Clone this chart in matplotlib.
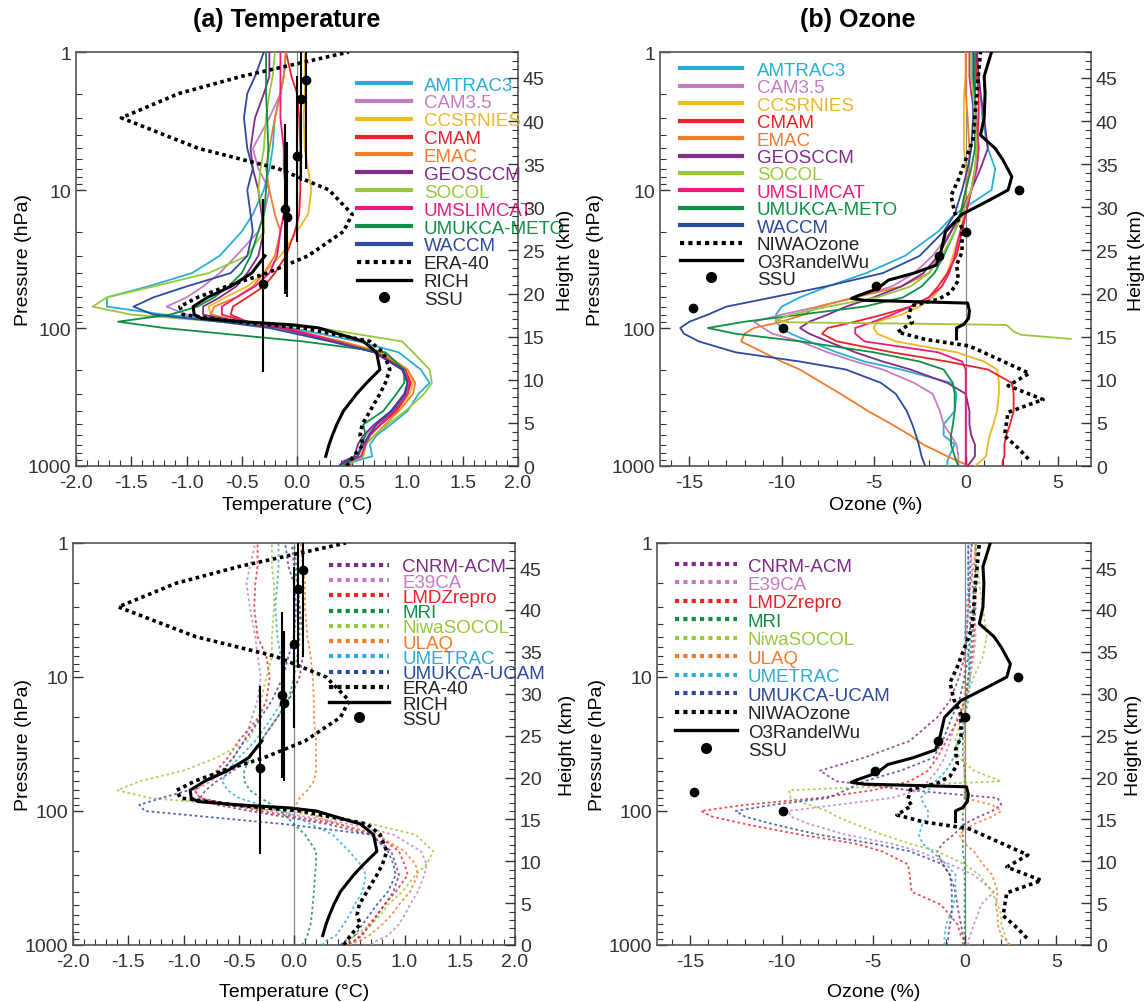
import numpy as np
import matplotlib
matplotlib.use('Agg')
import matplotlib.pyplot as plt
from matplotlib.lines import Line2D
from matplotlib.ticker import MultipleLocator, LogLocator, NullFormatter, FormatStrFormatter

plt.rcParams['font.family'] = ['Liberation Sans', 'DejaVu Sans']
plt.rcParams['axes.unicode_minus'] = False

# ── pressure grids (hPa) ─────────────────────────────────────
P_T = [1000, 925, 850, 700, 600, 500, 400, 300, 250, 200, 150, 125, 100, 90, 80,
       70, 60, 50, 40, 30, 20, 15, 10, 7, 5, 3, 2, 1.5, 1]
P_O = [1000, 925, 850, 700, 600, 500, 400, 300, 250, 200, 175, 150, 125, 110, 100,
       90, 80, 70, 60, 50, 40, 30, 20, 15, 10, 7, 5, 3, 2, 1.5, 1]

# ── (a) temperature, top: CCMVal models (solid) ─────────────
T_TOP = {
    'AMTRAC3':     [0.45, 0.52, 0.68, 0.66, 0.72, 0.85, 1.0, 1.1, 1.2, 1.12, 0.92, 0.55, -0.05, -0.45, -1.2,
                    -1.72, -1.72, -1.35, -0.95, -0.7, -0.5, -0.4, -0.3, -0.25, -0.22, -0.2, -0.15, -0.12, -0.1],
    'CAM3.5':      [0.4, 0.45, 0.55, 0.58, 0.62, 0.72, 0.85, 0.98, 1.02, 0.95, 0.7, 0.35, -0.2, -0.6, -1.0,
                    -1.18, -1.0, -0.85, -0.7, -0.55, -0.35, -0.3, -0.25, -0.35, -0.4, -0.25, -0.15, -0.12, -0.1],
    'CCSRNIES':    [0.42, 0.45, 0.55, 0.6, 0.65, 0.75, 0.9, 1.02, 1.05, 1.0, 0.78, 0.4, -0.15, -0.5, -0.78,
                    -0.8, -0.65, -0.45, -0.3, -0.15, 0.0, 0.1, 0.13, 0.1, 0.07, 0.06, 0.07, 0.07, 0.07],
    'CMAM':        [0.45, 0.5, 0.6, 0.62, 0.66, 0.76, 0.9, 1.0, 1.03, 0.98, 0.72, 0.35, -0.1, -0.45, -0.6,
                    -0.58, -0.45, -0.3, -0.2, -0.1, -0.02, 0.02, 0.03, 0.03, 0.03, 0.02, 0.0, -0.05, -0.1],
    'EMAC':        [0.48, 0.5, 0.58, 0.62, 0.7, 0.8, 0.92, 1.05, 1.07, 1.0, 0.75, 0.4, -0.1, -0.5, -0.78,
                    -0.75, -0.55, -0.4, -0.3, -0.2, -0.15, -0.2, -0.25, -0.28, -0.25, -0.2, -0.15, -0.12, -0.1],
    'GEOSCCM':     [0.38, 0.42, 0.52, 0.55, 0.6, 0.7, 0.85, 0.97, 1.0, 0.95, 0.7, 0.35, -0.15, -0.55, -0.85,
                    -0.85, -0.7, -0.55, -0.45, -0.35, -0.3, -0.32, -0.35, -0.4, -0.42, -0.38, -0.3, -0.25, -0.25],
    'SOCOL':       [0.45, 0.5, 0.6, 0.62, 0.7, 0.82, 0.98, 1.15, 1.22, 1.2, 1.05, 0.95, 0.2, -0.7, -1.5,
                    -1.85, -1.72, -1.3, -0.8, -0.45, -0.3, -0.3, -0.35, -0.33, -0.3, -0.28, -0.25, -0.22, -0.2],
    'UMSLIMCAT':   [0.42, 0.48, 0.58, 0.62, 0.66, 0.75, 0.88, 1.0, 1.02, 0.96, 0.7, 0.35, -0.1, -0.45, -0.68,
                    -0.68, -0.55, -0.38, -0.25, -0.18, -0.15, -0.12, -0.1, -0.12, -0.12, -0.15, -0.15, -0.15, -0.15],
    'UMUKCA-METO': [0.42, 0.48, 0.55, 0.58, 0.62, 0.6, 0.78, 0.9, 0.97, 0.97, 0.8, 0.05, -1.2, -1.62, -1.15,
                    -0.9, -0.75, -0.62, -0.5, -0.42, -0.35, -0.3, -0.28, -0.27, -0.26, -0.27, -0.28, -0.28, -0.28],
    'WACCM':       [0.38, 0.45, 0.55, 0.6, 0.65, 0.72, 0.86, 0.98, 1.0, 0.96, 0.7, 0.3, -0.25, -0.7, -1.3,
                    -1.48, -1.3, -1.0, -0.6, -0.45, -0.4, -0.42, -0.45, -0.4, -0.45, -0.48, -0.45, -0.38, -0.3],
}

# ── (a) temperature, bottom: other models (dotted) ───────────
T_BOT = {
    'CNRM-ACM':    [0.5, 0.55, 0.6, 0.7, 0.75, 0.82, 0.9, 0.95, 0.92, 0.88, 0.7, 0.3, -0.4, -0.7, -0.85,
                    -0.8, -0.7, -0.55, -0.42, -0.3, -0.15, -0.05, 0.05, 0.08, 0.08, 0.05, 0.03, 0.0, -0.02],
    'E39CA':       [0.7, 0.75, 0.85, 0.95, 1.0, 1.05, 1.12, 1.18, 1.2, 1.15, 0.9, 0.5, -0.2, -0.6, -0.85,
                    -0.9, -0.75, -0.65, -0.55, -0.45, -0.38, -0.33, -0.3, -0.33, -0.35, -0.4, -0.43, -0.4, -0.35],
    'LMDZrepro':   [0.45, 0.55, 0.62, 0.68, 0.75, 0.82, 0.92, 1.03, 1.0, 0.95, 0.75, 0.4, -0.3, -0.55, -0.85,
                    -0.9, -0.8, -0.7, -0.6, -0.5, -0.32, -0.25, -0.22, -0.25, -0.33, -0.36, -0.35, -0.33, -0.33],
    'MRI':         [0.07, 0.1, 0.12, 0.15, 0.16, 0.17, 0.18, 0.19, 0.2, 0.2, 0.1, 0.0, -0.12, -0.2, -0.3,
                    -0.4, -0.45, -0.45, -0.4, -0.3, -0.15, -0.05, 0.0, 0.03, 0.05, 0.05, 0.03, 0.02, 0.0],
    'NiwaSOCOL':   [0.45, 0.5, 0.55, 0.7, 0.78, 0.85, 0.98, 1.1, 1.2, 1.26, 1.1, 0.7, -0.1, -0.6, -1.3,
                    -1.6, -1.4, -1.0, -0.7, -0.42, -0.3, -0.3, -0.25, -0.2, -0.2, -0.18, -0.18, -0.2, -0.2],
    'ULAQ':        [0.5, 0.6, 0.68, 0.8, 0.88, 0.95, 1.05, 1.12, 1.1, 1.0, 0.75, 0.4, 0.05, 0.02, 0.05,
                    0.12, 0.18, 0.2, 0.2, 0.2, 0.18, 0.18, 0.17, 0.15, 0.12, 0.1, 0.1, 0.08, 0.06],
    'UMETRAC':     [0.25, 0.3, 0.38, 0.45, 0.5, 0.55, 0.62, 0.65, 0.6, 0.5, 0.35, 0.15, -0.1, -0.3, -0.5,
                    -0.6, -0.65, -0.6, -0.5, -0.35, -0.2, -0.1, -0.1, -0.12, -0.15, -0.17, -0.15, -0.14, -0.14],
    'UMUKCA-UCAM': [0.42, 0.47, 0.55, 0.62, 0.68, 0.75, 0.85, 0.92, 0.9, 0.85, 0.7, -0.1, -1.35, -1.4, -1.2,
                    -0.95, -0.8, -0.65, -0.55, -0.45, -0.3, -0.2, -0.1, -0.05, 0.0, 0.02, 0.0, -0.05, -0.08],
}

# ── (a) observations ─────────────────────────────────────────
ERA40 = [0.45, 0.48, 0.51, 0.6, 0.57, 0.59, 0.66, 0.75, 0.8, 0.84, 0.78, 0.66, 0.06, -0.55, -1.03,
         -1.06, -0.9, -0.64, -0.27, 0.1, 0.42, 0.5, 0.29, -0.17, -0.89, -1.59, -1.07, -0.5, 0.47]
RICH_P = [850, 700, 600, 500, 400, 300, 250, 200, 150, 125, 100, 95, 90, 85, 80, 70, 60, 50, 40, 30]
RICH_T = [0.26, 0.29, 0.32, 0.36, 0.42, 0.54, 0.63, 0.75, 0.72, 0.6, 0.2, -0.03, -0.5, -0.87, -0.93,
          -0.94, -0.81, -0.6, -0.41, -0.29]
SSU_T = [0.08, 0.04, 0.0, -0.11, -0.09, -0.31]
SSU_TP = [1.6, 2.2, 5.7, 13.7, 15.6, 48.0]
SSU_TP_LO = [1.0, 1.0, 1.5, 3.3, 4.5, 11.6]
SSU_TP_HI = [7.1, 8.6, 24.0, 57.0, 60.0, 210.0]

# ── (b) ozone, top: CCMVal models (solid) ────────────────────
O_TOP = {
    'AMTRAC3':     [-1.0, -1.0, -0.9, -0.6, -1.2, -1.2, -0.6, -0.5, -0.8, -3.5, -5.5, -7.0, -8.5, -9.5, -10.0,
                    -10.3, -10.3, -10.0, -9.0, -7.5, -5.4, -3.3, -1.5, -0.6, 1.4, 1.6, 1.2, 0.9, 0.8, 0.7, 0.6],
    'CAM3.5':      [-0.4, -0.4, -0.4, -0.5, -0.8, -1.2, -1.4, -1.8, -2.8, -4.5, -6.0, -7.5, -9.0, -10.5, -11.0,
                    -11.5, -10.0, -8.0, -6.0, -4.0, -2.8, -1.8, -0.8, -0.2, 0.3, 0.6, 0.7, 0.6, 0.5, 0.5, 0.5],
    'CCSRNIES':    [0.5, 0.8, 1.1, 1.2, 1.3, 1.5, 1.7, 1.8, 1.8, 1.7, 1.0, -0.5, -3.8, -4.8, -5.0,
                    -4.8, -3.5, -2.5, -1.8, -1.3, -1.0, -0.7, -0.3, -0.1, 0.0, 0.0, -0.1, -0.1, -0.1, 0.0, 0.0],
    'CMAM':        [2.0, 2.0, 2.1, 2.1, 2.2, 2.4, 2.6, 2.6, 2.5, 1.2, -1.0, -4.0, -7.0, -7.8, -7.5,
                    -6.0, -4.5, -3.0, -2.0, -1.5, -1.0, -0.5, -0.2, 0.0, 0.3, 0.5, 0.6, 0.7, 0.7, 0.6, 0.6],
    'EMAC':        [0.2, -0.4, -1.0, -2.3, -3.0, -4.0, -5.3, -6.8, -7.8, -9.0, -10.0, -11.0, -12.2, -12.0, -11.5,
                    -10.0, -8.8, -8.0, -6.0, -3.5, -2.0, -1.5, -0.8, -0.3, 0.0, 0.2, 0.2, 0.1, 0.0, 0.0, 0.0],
    'GEOSCCM':     [0.1, 0.3, 0.5, 0.5, 0.3, 0.2, 0.2, 0.0, -1.0, -3.0, -4.5, -6.0, -7.5, -8.5, -9.0,
                    -8.5, -7.5, -6.5, -5.0, -3.5, -2.3, -1.5, -0.8, -0.3, 0.3, 0.8, 1.2, 1.0, 0.8, 0.7, 0.6],
    'UMSLIMCAT':   [0.0, 0.0, 0.0, 0.0, 0.0, 0.0, 0.0, 0.0, 0.0, 0.0, -0.2, -1.5, -5.5, -6.0, -6.0,
                    -5.0, -4.0, -3.0, -2.0, -1.3, -0.9, -0.6, -0.3, 0.0, 0.3, 0.6, 0.7, 0.5, 0.3, 0.2, 0.2],
    'UMUKCA-METO': [-0.4, -0.5, -0.6, -0.8, -0.8, -0.7, -0.6, -0.6, -0.7, -1.2, -2.5, -5.0, -9.0, -12.5, -14.0,
                    -12.0, -9.0, -5.5, -3.4, -2.4, -1.7, -1.2, -0.6, -0.3, 0.0, 0.3, 0.5, 0.5, 0.5, 0.5, 0.5],
    'WACCM':       [-2.2, -2.3, -2.4, -2.55, -2.7, -2.9, -3.2, -3.8, -4.6, -6.5, -9.0, -12.5, -14.5, -15.3, -15.5,
                    -15.0, -14.0, -13.0, -10.5, -7.6, -4.5, -2.5, -1.2, -0.6, -0.2, 0.1, 0.3, 0.4, 0.4, 0.4, 0.4],
}
SOCOL_OP = [120, 112, 106, 100, 95, 93, 91, 88, 80, 70, 60, 50, 40, 30, 20, 15, 10, 7, 5, 3, 2, 1.5, 1]
SOCOL_O = [5.7, 3.0, 2.6, 2.4, 2.2, -3.0, -9.5, -10.3, -9.5, -7.5, -4.8, -3.0, -2.0, -1.3, -0.6,
           -0.2, 0.3, 0.5, 0.6, 0.5, 0.4, 0.3, 0.3]

# ── (b) ozone, bottom: other models (dotted) ─────────────────
O_BOT = {
    'CNRM-ACM':    [0.0, 0.0, -0.1, -0.2, -0.3, -0.4, -0.5, -0.8, -1.2, -1.5, -1.2, -0.6, 0.0, 0.8, 1.5,
                    2.0, 1.8, -3.0, -7.0, -7.9, -5.5, -3.0, -1.5, -0.8, -0.3, 0.0, 0.1, 0.2, 0.3, 0.3, 0.4],
    'E39CA':       [0.2, 0.2, 0.3, 0.5, 0.7, 0.9, 1.6, 0.5, -0.8, -2.5, -4.0, -6.5, -8.5, -9.5, -9.6,
                    -7.0, -4.0, -2.5, -2.0, -1.5, -1.1, -0.8, -0.4, 0.0, 0.3, 0.5, 0.6, 0.5, 0.4, 0.4, 0.3],
    'LMDZrepro':   [0.0, 0.0, -0.2, -0.4, -0.8, -1.3, -2.9, -3.0, -3.1, -4.5, -6.0, -9.0, -12.0, -13.8, -14.4,
                    -12.0, -8.0, -5.0, -3.0, -2.0, -1.5, -1.0, -0.3, 0.0, 0.2, 0.4, 0.5, 0.6, 0.6, 0.6, 0.6],
    'MRI':         [-0.1, -0.1, 0.0, 0.0, 0.0, 0.0, 0.0, 0.0, 0.0, -0.1, -0.1, -0.1, -0.1, -0.1, -0.1,
                    0.0, 0.0, 0.0, 0.0, 0.0, -0.1, -0.1, 0.0, 0.1, 0.2, 0.3, 0.4, 0.5, 0.5, 0.6, 0.6],
    'NiwaSOCOL':   [2.4, 2.3, 2.2, 2.0, 2.0, 1.8, 1.5, 0.8, 0.0, -1.5, -3.0, -4.5, -6.0, -7.0, -7.5,
                    -8.5, -9.5, -9.6, 2.0, 0.5, -0.3, -0.5, -0.2, 0.0, 0.5, 1.0, 1.2, 1.0, 0.8, 0.7, 0.6],
    'ULAQ':        [2.5, 2.3, 2.0, 1.8, 1.8, 1.7, 1.8, 1.5, 1.0, 0.5, 0.0, -0.3, 0.5, 1.5, 2.0,
                    1.5, 0.0, 0.0, 0.0, 0.0, 0.0, 0.0, 0.0, 0.0, 0.0, 0.0, 0.1, 0.2, 0.3, 0.5, 0.6],
    'UMETRAC':     [-1.1, -1.1, -1.1, -1.0, -0.8, -0.6, -0.5, -0.5, -1.0, -1.8, -2.3, -2.5, -2.3, -2.0, -2.0,
                    -2.2, -2.4, -2.0, -1.6, -1.0, -0.6, -0.3, 0.0, 0.2, 0.3, 0.2, 0.0, 0.1, 0.2, 0.2, 0.2],
    'UMUKCA-UCAM': [-1.0, -0.9, -0.9, -0.8, -0.7, -0.7, -0.7, -0.8, -1.2, -3.0, -5.0, -8.0, -10.5, -12.0, -12.5,
                    -10.5, -7.5, -6.5, -5.5, -3.5, -1.7, -1.2, -0.7, -0.3, 0.0, 0.2, 0.3, 0.3, 0.2, 0.2, 0.2],
}

# ── (b) observations ─────────────────────────────────────────
NIWA_P = [890, 753, 603, 408, 330, 262, 213, 135, 121, 107, 91, 82, 69, 62, 55, 45, 35, 28, 19,
          14.6, 11, 8.4, 4.3, 2, 1]
NIWA_O = [3.4, 2.9, 2.1, 2.3, 4.2, 2.3, 3.45, 0.2, -2.2, -3.7, -2.9, -3.1, -2.95, -1.5, -0.8,
          -0.4, -0.5, -0.2, -0.2, -0.6, -0.8, -0.4, 0.4, 0.6, 0.8]
RANDEL_P = [120, 110, 100, 94, 85, 75, 66, 63, 61, 58, 52, 45, 40, 35, 30, 20, 15, 12, 10, 8, 6,
            5, 4, 3, 2, 1.5, 1]
RANDEL_O = [-0.5, -0.5, -0.5, -0.1, 0.15, 0.2, 0.1, -5.5, -6.2, -5.8, -4.8, -4.2, -2.8, -1.6, -1.4,
            -1.1, -0.2, 1.2, 2.3, 2.5, 2.0, 1.6, 0.8, 1.0, 1.05, 1.0, 1.4]
SSU_O = [2.9, 0.0, -1.45, -4.9, -14.8, -9.9]
SSU_OP = [10, 20, 30, 50, 72, 100]

COLORS = {
    'AMTRAC3': '#2aaed6', 'CAM3.5': '#c77cc2', 'CCSRNIES': '#efb72a', 'CMAM': '#ec2227',
    'EMAC': '#f47b2a', 'GEOSCCM': '#7f2b87', 'SOCOL': '#98c83e', 'UMSLIMCAT': '#ec1c7d',
    'UMUKCA-METO': '#0e8f45', 'WACCM': '#2c4a9e',
    'CNRM-ACM': '#7f2b87', 'E39CA': '#c77cc2', 'LMDZrepro': '#ec2227', 'MRI': '#0e8f45',
    'NiwaSOCOL': '#98c83e', 'ULAQ': '#f47b2a', 'UMETRAC': '#2aaed6', 'UMUKCA-UCAM': '#2c4a9e',
}
INK = '#222222'
FS = 14


def setup_axis(ax, xlim, major, minor, fmt, xlabel, lab_x, lab_y, hgt_x):
    ax.set_yscale('log')
    ax.set_ylim(1000, 1)
    ax.set_xlim(*xlim)
    ax.set_yticks([1, 10, 100, 1000])
    ax.set_yticklabels(['1', '10', '100', '1000'])
    ax.yaxis.set_minor_locator(LogLocator(base=10, subs=np.arange(2, 10)))
    ax.yaxis.set_minor_formatter(NullFormatter())
    ax.xaxis.set_major_locator(MultipleLocator(major))
    ax.xaxis.set_minor_locator(MultipleLocator(minor))
    ax.xaxis.set_major_formatter(FormatStrFormatter(fmt))
    ax.tick_params(which='both', direction='in', labelsize=FS, colors='#333',
                   top=False, right=False)
    ax.tick_params(which='major', length=7, width=1.0)
    ax.tick_params(which='minor', length=4, width=0.8)
    ax.tick_params(axis='x', pad=6)
    for sp in ax.spines.values():
        sp.set_color('#555')
        sp.set_linewidth(1.2)
    ax.set_xlabel(xlabel, fontsize=FS)
    ax.xaxis.set_label_coords(0.5, lab_y)
    ax.set_ylabel('Pressure (hPa)', fontsize=FS)
    ax.yaxis.set_label_coords(lab_x, 0.5)
    ax.axvline(0, color='#888', lw=0.9, zorder=1)

    axh = ax.twinx()
    axh.set_ylim(0, 48)
    axh.yaxis.set_major_locator(MultipleLocator(5))
    axh.yaxis.set_minor_locator(MultipleLocator(1))
    axh.tick_params(which='both', direction='in', labelsize=FS, colors='#333', left=False)
    axh.tick_params(which='major', length=7, width=1.0)
    axh.tick_params(which='minor', length=4, width=0.8)
    for sp in axh.spines.values():
        sp.set_visible(False)
    axh.set_ylabel('Height (km)', fontsize=FS)
    axh.yaxis.set_label_coords(hgt_x, 0.5)
    return axh


def add_legend(ax, names, obs, anchor, hl, pad, spacing, dotted):
    handles, labels, tcols = [], [], []
    ls = (0, (1, 1)) if dotted else '-'
    for n in names:
        handles.append(Line2D([], [], color=COLORS[n], lw=3, ls=ls))
        labels.append(n)
        tcols.append(COLORS[n])
    handles.append(Line2D([], [], color='black', lw=3, ls=(0, (1, 1))))
    handles.append(Line2D([], [], color='black', lw=2.4))
    handles.append(Line2D([], [], color='black', ls='none', marker='o', ms=7))
    labels += obs
    tcols += [INK] * 3
    leg = ax.legend(handles, labels, loc='upper left', bbox_to_anchor=anchor, frameon=False,
                    fontsize=13.5, handlelength=hl, handletextpad=pad, labelspacing=spacing,
                    borderpad=0, borderaxespad=0)
    for t, c in zip(leg.get_texts(), tcols):
        t.set_color(c)
    leg.set_zorder(20)


fig = plt.figure(figsize=(11.46, 10.03), dpi=100)
W, H = 1146.0, 1003.0


def add_ax(x0, x1, y0, y1):
    return fig.add_axes([x0 / W, 1 - y1 / H, (x1 - x0) / W, (y1 - y0) / H])


ax_tt = add_ax(76, 518, 53, 467)
ax_ot = add_ax(660, 1091, 53, 467)
ax_tb = add_ax(73, 515, 544, 946)
ax_ob = add_ax(657, 1091, 544, 946)

fig.text(287 / W, 1 - 20 / H, '(a) Temperature', ha='center', va='center',
         fontsize=18, fontweight='bold')
fig.text(858 / W, 1 - 20 / H, '(b) Ozone', ha='center', va='center',
         fontsize=18, fontweight='bold')

# ── panel: temperature, top ─────────────────────────────────
ax = ax_tt
setup_axis(ax, (-2, 2), 0.5, 0.1, '%.1f', 'Temperature (°C)', -0.1, -0.0725, 1.088)
for n, v in T_TOP.items():
    ax.plot(v, P_T, color=COLORS[n], lw=1.3, zorder=3)
ax.plot(ERA40, P_T, color='black', lw=2.6, ls=(0, (1, 1)), zorder=5)
ax.plot(RICH_T, RICH_P, color='black', lw=2.2, zorder=6)
ax.vlines(SSU_T, SSU_TP_LO, SSU_TP_HI, color='black', lw=1.5, zorder=6)
ax.plot(SSU_T, SSU_TP, 'o', color='black', ms=6, zorder=7)
add_legend(ax, list(T_TOP), ['ERA-40', 'RICH', 'SSU'], (0.636, 0.941), 2.9, 0.65, 0.04, False)

# ── panel: ozone, top ────────────────────────────────────────
ax = ax_ot
setup_axis(ax, (-16.6, 6.8), 5, 1, '%d', 'Ozone (%)', -0.13, -0.0725, 1.086)
for n, v in O_TOP.items():
    ax.plot(v, P_O, color=COLORS[n], lw=1.3, zorder=3)
ax.plot(SOCOL_O, SOCOL_OP, color=COLORS['SOCOL'], lw=1.3, zorder=3)
ax.plot(NIWA_O, NIWA_P, color='black', lw=2.6, ls=(0, (1, 1)), zorder=5)
ax.plot(RANDEL_O, RANDEL_P, color='black', lw=2.2, zorder=6)
ax.plot(SSU_O, SSU_OP, 'o', color='black', ms=6, zorder=7)
top_names = ['AMTRAC3', 'CAM3.5', 'CCSRNIES', 'CMAM', 'EMAC', 'GEOSCCM', 'SOCOL',
             'UMSLIMCAT', 'UMUKCA-METO', 'WACCM']
add_legend(ax, top_names, ['NIWAOzone', 'O3RandelWu', 'SSU'], (0.046, 0.976), 3.3, 0.8, 0.015, False)

# ── panel: temperature, bottom ──────────────────────────────
ax = ax_tb
setup_axis(ax, (-2, 2), 0.5, 0.1, '%.1f', 'Temperature (°C)', -0.093, -0.0945, 1.10)
for n, v in T_BOT.items():
    ax.plot(v, P_T, color=COLORS[n], lw=1.3, ls=(0, (1.5, 1.5)), alpha=0.8, zorder=3)
ax.plot(ERA40, P_T, color='black', lw=2.6, ls=(0, (1, 1)), zorder=5)
ax.plot(RICH_T, RICH_P, color='black', lw=2.2, zorder=6)
ax.vlines(SSU_T, SSU_TP_LO, SSU_TP_HI, color='black', lw=1.5, zorder=6)
ax.plot(SSU_T, SSU_TP, 'o', color='black', ms=6, zorder=7)
add_legend(ax, list(T_BOT), ['ERA-40', 'RICH', 'SSU'], (0.58, 0.962), 3.2, 0.7, -0.1, True)

# ── panel: ozone, bottom ─────────────────────────────────────
ax = ax_ob
setup_axis(ax, (-16.8, 6.9), 5, 1, '%d', 'Ozone (%)', -0.117, -0.0945, 1.078)
for n, v in O_BOT.items():
    ax.plot(v, P_O, color=COLORS[n], lw=1.3, ls=(0, (1.5, 1.5)), alpha=0.8, zorder=3)
ax.plot(NIWA_O, NIWA_P, color='black', lw=2.6, ls=(0, (1, 1)), zorder=5)
ax.plot(RANDEL_O, RANDEL_P, color='black', lw=2.2, zorder=6)
ax.plot(SSU_O, SSU_OP, 'o', color='black', ms=6, zorder=7)
add_legend(ax, list(O_BOT), ['NIWAOzone', 'O3RandelWu', 'SSU'], (0.041, 0.964), 3.3, 0.6, 0.07, True)

plt.savefig('out.png', dpi=100)
